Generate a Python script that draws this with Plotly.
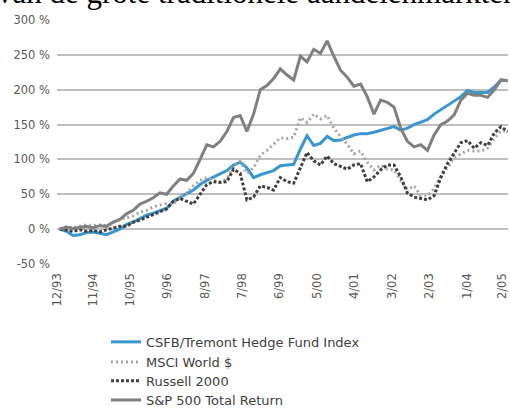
import plotly.graph_objects as go

# bimonthly readings, 12/93 .. 2/05, cumulative return in %
months = ["12/93", "2/94", "4/94", "6/94", "8/94", "10/94", "12/94", "2/95", "4/95", "6/95",
          "8/95", "10/95", "12/95", "2/96", "4/96", "6/96", "8/96", "10/96", "12/96", "2/97",
          "4/97", "6/97", "8/97", "10/97", "12/97", "2/98", "4/98", "6/98", "8/98", "10/98",
          "12/98", "2/99", "4/99", "6/99", "8/99", "10/99", "12/99", "2/00", "4/00", "6/00",
          "8/00", "10/00", "12/00", "2/01", "4/01", "6/01", "8/01", "10/01", "12/01", "2/02",
          "4/02", "6/02", "8/02", "10/02", "12/02", "2/03", "4/03", "6/03", "8/03", "10/03",
          "12/03", "2/04", "4/04", "6/04", "8/04", "10/04", "12/04", "2/05"]

csfb = [0, -3, -9, -8, -5, -4, -6, -8, -4, 0,
        7, 10, 15, 20, 23, 26, 30, 40, 46, 51,
        56, 64, 70, 75, 79, 84, 92, 96, 88, 74,
        78, 81, 84, 91, 92, 93, 115, 134, 120, 123,
        133, 127, 128, 132, 135, 137, 137, 139, 142, 145,
        147, 142, 145, 150, 153, 157, 165, 171, 178, 183,
        190, 199, 196, 196, 196, 204, 214, 213]

msci = [0, 3, 2, 4, 6, 5, 6, 5, 10, 14,
        16, 19, 24, 27, 32, 35, 37, 36, 47, 52,
        62, 70, 74, 70, 68, 72, 90, 97, 80, 88,
        106, 113, 122, 131, 130, 132, 160, 153, 165, 158,
        163, 145, 133, 122, 108, 112, 96, 85, 92, 86,
        85, 70, 57, 62, 48, 48, 58, 76, 88, 103,
        108, 113, 112, 112, 116, 130, 141, 140]

russell = [0, -2, -3, -1, -3, -2, -4, -1, 1, 4,
           4, 10, 13, 17, 22, 25, 29, 40, 44, 40,
           36, 50, 64, 68, 67, 68, 86, 80, 42, 46,
           62, 60, 56, 74, 68, 66, 88, 110, 98, 92,
           105, 94, 90, 86, 92, 94, 68, 75, 85, 92,
           92, 75, 52, 46, 44, 42, 48, 74, 94, 110,
           124, 127, 116, 124, 120, 138, 147, 140]

sp500 = [0, 3, 1, 2, 4, 2, 5, 4, 10, 14,
         22, 27, 36, 40, 45, 52, 50, 62, 72, 70,
         80, 100, 121, 118, 126, 140, 160, 163, 140, 165,
         200, 206, 216, 230, 221, 214, 248, 240, 258, 252,
         270, 248, 228, 218, 205, 208, 190, 165, 185, 182,
         175, 145, 126, 118, 121, 113, 135, 150, 155, 164,
         185, 195, 192, 192, 189, 200, 214, 213]

tick_labels = ["12/93", "11/94", "10/95", "9/96", "8/97", "7/98", "6/99",
               "5/00", "4/01", "3/02", "2/03", "1/04", "2/05"]
tick_pos = [-0.3, 5.0, 10.5, 16.1, 21.7, 27.3, 32.9, 38.5, 44.1, 49.8, 55.3, 60.9, 66.2]

y_ticks = [-50, 0, 50, 100, 150, 200, 250, 300]

x = list(range(len(months)))

series = [
    ("CSFB/Tremont Hedge Fund Index", csfb, dict(color="#3A96CF", width=3)),
    ("MSCI World $", msci, dict(color="#A6A6A6", width=3, dash="2px,3px")),
    ("Russell 2000", russell, dict(color="#404040", width=3, dash="3px,2px")),
    ("S&P 500 Total Return", sp500, dict(color="#808080", width=3)),
]
legend_ids = ["legend", "legend2", "legend3", "legend4"]
legend_y = [0.164, 0.115, 0.069, 0.022]

fig = go.Figure()
for (name, vals, line), lid in zip(series, legend_ids):
    fig.add_trace(go.Scatter(x=x, y=vals, mode="lines", name=name, line=line, legend=lid))

fig.add_annotation(text="van de grote traditionele aandelenmarkten", xref="paper", yref="paper",
                   x=-0.138, y=1.033, xanchor="left", yanchor="bottom", showarrow=False,
                   font=dict(family="Liberation Serif", size=31, color="black"))

legends = {}
for lid, ly in zip(legend_ids, legend_y):
    legends[lid] = dict(x=0.1086, y=ly, xref="paper", yref="container", xanchor="left",
                        yanchor="middle", itemwidth=30, bgcolor="rgba(0,0,0,0)",
                        font=dict(family="DejaVu Sans", size=13, color="#404040"))

fig.update_layout(
    width=510, height=409,
    margin=dict(l=57, r=2, t=20, b=145, autoexpand=False),
    plot_bgcolor="white", paper_bgcolor="white",
    font=dict(family="DejaVu Sans", color="#595959", size=11.5),
    showlegend=True,
    **legends,
)
fig.update_xaxes(range=[-0.4, 67.05], tickmode="array", tickvals=tick_pos, ticktext=tick_labels,
                 tickangle=-90, showgrid=False, zeroline=False, showline=False, ticks="",
                 ticklabelstandoff=6, ticklabeloverflow="allow")
fig.update_yaxes(range=[-50, 300], tickmode="array", tickvals=y_ticks,
                 ticktext=[f"{v} %" for v in y_ticks], showgrid=True, gridcolor="#BFBFBF",
                 gridwidth=1.5, zeroline=False, ticks="", ticklen=0, ticklabelstandoff=6)

# page body has a default 8px margin; drop it so the figure sits at the window corner
fig.write_html("out.html", config={"displayModeBar": False},
               post_script="document.body.style.margin='0';")
